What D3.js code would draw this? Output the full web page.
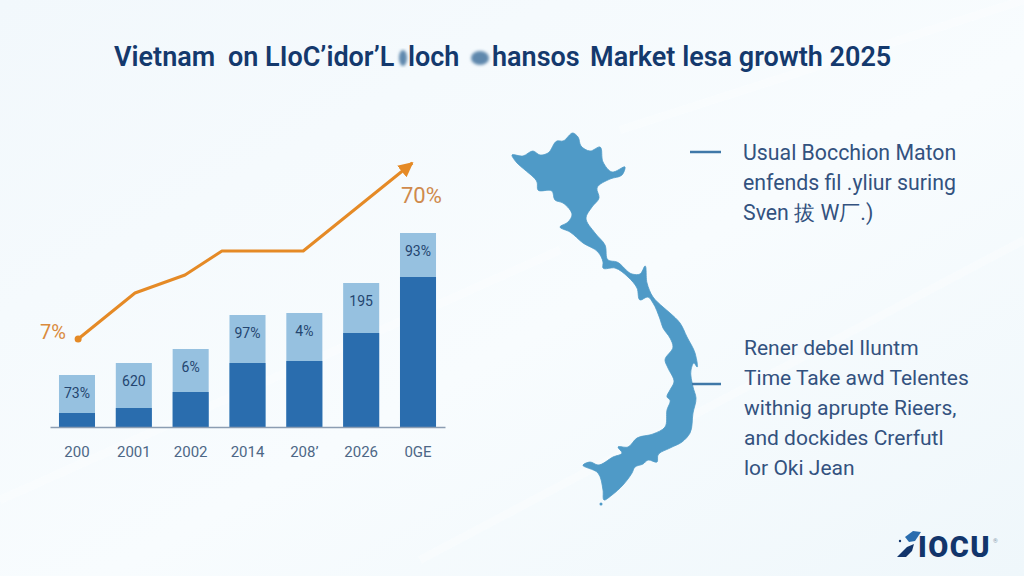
<!DOCTYPE html>
<html>
<head>
<meta charset="utf-8">
<script src="https://cdn.jsdelivr.net/npm/d3@7"></script>
<style>
  html, body { margin: 0; padding: 0; background: #f5fafd; }
  svg { display: block; font-family: Roboto, "Liberation Sans", sans-serif; }
</style>
</head>
<body>
<svg id="chart" width="1024" height="576"></svg>
<script>
// Chart values
var years = ["200", "2001", "2002", "2014", "208\u2019", "2026", "0GE"];
var darkValues = [7, 9.5, 17.5, 32, 33, 47, 75];
var totalValues = [26, 32, 39, 56, 57, 72, 97];
var barLabels = ["73%", "620", "6%", "97%", "4%", "195", "93%"];

// The trend line does not sit on the bar centres, so it has its own positions
var trendPositions = [0.02, 1.02, 1.9, 2.55, 3.98, 5.9];
var trendValues = [44, 67, 76, 88, 88, 132];

// Title is placed in pieces because the reference has smudges between them
var titleParts = ["Vietnam", "on LIoC\u2019idor\u2019L", "loch", "hansos", "Market lesa growth 2025"];
var titleStarts = [114, 228, 408, 492, 590];
var noteTop = ["Usual Bocchion Maton", "enfends fil .yliur suring", "Sven \u62d4 W\u5382.)"];
var noteBottom = ["Rener debel Iluntm", "Time Take awd Telentes", "withnig aprupte Rieers,", "and dockides Crerfutl", "lor Oki Jean"];

// Map outline
var mapOutline = [[512,155],[523,156],[533,151],[540,155],[548,153],[557,141],[563,141],[573,133],[578,137],[581,146],
  [590,151],[600,147],[603,162],[612,172],[625,167],[622,175],[610,179],[597,188],[599,198],[592,207],[586,218],[595,233],
  [605,245],[608,260],[617,262],[632,274],[640,274],[645,266],[647,283],[653,297],[663,307],[670,313],[680,323],[687,337],
  [695,353],[697,367],[694,363],[691,370],[693,387],[696,398],[693,413],[690,433],[682,442],[670,448],[658,455],[657,462],
  [648,460],[643,464],[635,467],[632,473],[623,485],[612,495],[604,500],[603,490],[598,473],[583,465],[590,462],[598,465],
  [613,457],[622,453],[618,447],[628,447],[637,438],[653,434],[665,427],[667,410],[670,400],[667,397],[670,390],[674,382],
  [668,368],[665,360],[673,347],[670,338],[663,328],[660,319],[653,303],[648,297],[640,300],[637,288],[628,277],[615,268],
  [603,268],[603,262],[598,252],[583,243],[570,232],[560,227],[568,222],[572,215],[563,203],[555,200],[552,191],[538,190],
  [537,182],[525,170],[517,163]];

var svg = d3.select("#chart");

// Background
var defs = svg.append("defs");
var bg = defs.append("linearGradient").attr("id", "bg")
  .attr("x1", "0").attr("y1", "0").attr("x2", "1").attr("y2", "1");
bg.append("stop").attr("offset", "0").attr("stop-color", "#f2f8fc");
bg.append("stop").attr("offset", "0.55").attr("stop-color", "#f8fcfe");
bg.append("stop").attr("offset", "1").attr("stop-color", "#eff7fb");
svg.append("rect").attr("width", 1024).attr("height", 576).attr("fill", "url(#bg)");

defs.append("filter").attr("id", "soft")
  .append("feGaussianBlur").attr("stdDeviation", 0.5);
defs.append("filter").attr("id", "smudge")
  .append("feGaussianBlur").attr("stdDeviation", 1.6);

// Faint diagonal streaks
[[0, 500, 560, 250], [420, 560, 1024, 240], [620, 130, 1024, 0]].forEach(function (s) {
  svg.append("line")
    .attr("x1", s[0]).attr("y1", s[1]).attr("x2", s[2]).attr("y2", s[3])
    .attr("stroke", "#ffffff").attr("stroke-width", 8).attr("opacity", 0.3);
});

defs.append("marker").attr("id", "arrow")
  .attr("viewBox", "0 0 10 10").attr("refX", 9).attr("refY", 5)
  .attr("markerWidth", 5).attr("markerHeight", 5)
  .attr("markerUnits", "strokeWidth").attr("orient", "auto")
  .append("path").attr("d", "M0,0L10,5L0,10Z").attr("fill", "#e58a26");

// Title
svg.append("g").selectAll("text").data(titleParts).join("text")
  .attr("x", function (d, i) { return titleStarts[i]; })
  .attr("y", 66)
  .attr("font-size", 27)
  .attr("font-weight", 600)
  .attr("fill", "#14396d")
  .text(function (d) { return d; });

// Smudges in the title
svg.append("g").attr("filter", "url(#smudge)").attr("fill", "#5f88ad").selectAll("ellipse")
  .data([[403, 58, 4, 8], [480, 58, 9, 7]]).join("ellipse")
  .attr("cx", function (d) { return d[0]; })
  .attr("cy", function (d) { return d[1]; })
  .attr("rx", function (d) { return d[2]; })
  .attr("ry", function (d) { return d[3]; });

// Scales
var x = d3.scaleBand().domain(years).range([50, 445]).paddingInner(0.366).paddingOuter(0.158);
var y = d3.scaleLinear().domain([0, 100]).range([427, 227]);
var trendX = d3.scaleLinear().domain([0, 6])
  .range([x(years[0]) + x.bandwidth() / 2, x(years[6]) + x.bandwidth() / 2]);

// Light part of each bar, then the dark part on top
svg.append("g").selectAll("rect").data(years).join("rect")
  .attr("x", function (d) { return x(d); })
  .attr("width", x.bandwidth())
  .attr("y", function (d, i) { return y(totalValues[i]); })
  .attr("height", function (d, i) { return y(0) - y(totalValues[i]); })
  .attr("fill", "#96c1e0");

svg.append("g").selectAll("rect").data(years).join("rect")
  .attr("x", function (d) { return x(d); })
  .attr("width", x.bandwidth())
  .attr("y", function (d, i) { return y(darkValues[i]); })
  .attr("height", function (d, i) { return y(0) - y(darkValues[i]); })
  .attr("fill", "#2a6dae");

// Labels near the top of each bar
svg.append("g").selectAll("text").data(years).join("text")
  .attr("x", function (d) { return x(d) + x.bandwidth() / 2; })
  .attr("y", function (d, i) { return y(totalValues[i]) + 18; })
  .attr("dy", "0.35em")
  .attr("text-anchor", "middle")
  .attr("font-size", 14)
  .attr("fill", "#24456f")
  .text(function (d, i) { return barLabels[i]; });

// X axis
var axis = svg.append("g")
  .attr("transform", "translate(0,427)")
  .call(d3.axisBottom(x).tickSize(0).tickPadding(19));
axis.select(".domain").attr("stroke", "#8b9db2").attr("stroke-width", 1.5);
axis.selectAll("text")
  .attr("font-family", "Roboto, 'Liberation Sans', sans-serif")
  .attr("font-size", 15)
  .attr("fill", "#4d6786");

// Trend line
var trendLine = d3.line()
  .x(function (d, i) { return trendX(trendPositions[i]); })
  .y(function (d) { return y(d); });

svg.append("path")
  .attr("d", trendLine(trendValues))
  .attr("fill", "none")
  .attr("stroke", "#e58a26")
  .attr("stroke-width", 3)
  .attr("stroke-linejoin", "round")
  .attr("marker-end", "url(#arrow)");

svg.append("circle")
  .attr("cx", trendX(trendPositions[0]))
  .attr("cy", y(trendValues[0]))
  .attr("r", 3.5)
  .attr("fill", "#e58a26");

svg.append("text").attr("x", 40).attr("y", 339)
  .attr("font-size", 20).attr("fill", "#da8a3c").text("7%");
svg.append("text").attr("x", 401).attr("y", 203)
  .attr("font-size", 22).attr("fill", "#cf8a4c").text("70%");

// Map
var map = svg.append("g").attr("fill", "#4f9ac7").attr("filter", "url(#soft)");
map.append("path")
  .attr("d", d3.line().curve(d3.curveCatmullRomClosed.alpha(0.8))(mapOutline))
  .attr("stroke", "#4f9ac7")
  .attr("stroke-width", 0.8)
  .attr("stroke-linejoin", "round");
map.append("circle").attr("cx", 601).attr("cy", 504).attr("r", 1.5);

// Connectors next to the notes
svg.append("line").attr("x1", 690).attr("y1", 152).attr("x2", 721).attr("y2", 152)
  .attr("stroke", "#3f78a8").attr("stroke-width", 2.5);
svg.append("line").attr("x1", 692).attr("y1", 384).attr("x2", 721).attr("y2", 384)
  .attr("stroke", "#3f78a8").attr("stroke-width", 2.5);

// Notes
svg.append("g").selectAll("text").data(noteTop).join("text")
  .attr("x", 743)
  .attr("y", function (d, i) { return 160 + i * 30; })
  .attr("font-size", 21.3)
  .attr("fill", "#33527f")
  .text(function (d) { return d; });

svg.append("g").selectAll("text").data(noteBottom).join("text")
  .attr("x", 744)
  .attr("y", function (d, i) { return 355 + i * 30; })
  .attr("font-size", 21)
  .attr("fill", "#33527f")
  .text(function (d) { return d; });

// Logo
var logo = svg.append("g").attr("fill", "#12356b");
logo.append("path").attr("d", "M897,557L907,547L914,544L912,551L906,557Z");
logo.append("path").attr("d", "M905,537L913,531L921,532L915,541L909,542Z").attr("fill", "#2a6dae");
logo.append("circle").attr("cx", 900).attr("cy", 541).attr("r", 1.2);
logo.append("text").attr("x", 918).attr("y", 557)
  .attr("font-size", 29).attr("font-weight", 900)
  .attr("letter-spacing", 1.5)
  .attr("font-family", "Roboto, 'Liberation Sans', sans-serif")
  .text("IOCU");
logo.append("text").attr("x", 993).attr("y", 543)
  .attr("font-size", 6).attr("fill", "#8a9bb0").text("\u00ae");
</script>
</body>
</html>
